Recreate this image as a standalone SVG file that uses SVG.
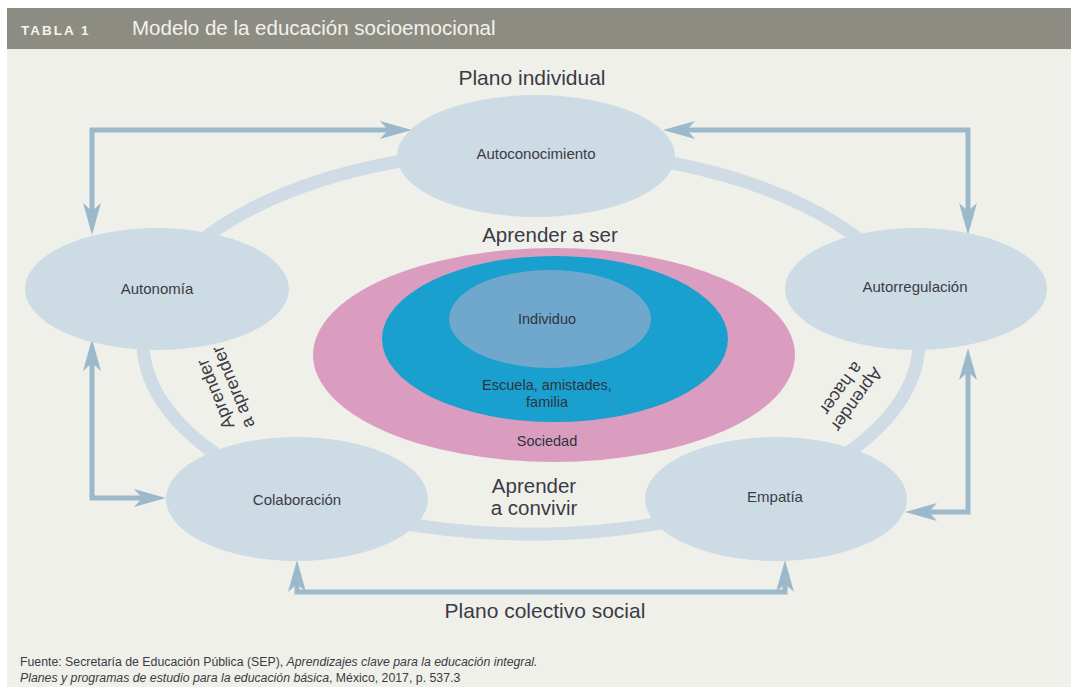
<svg xmlns="http://www.w3.org/2000/svg" width="1071" height="687" viewBox="0 0 1071 687">
<style>
.t{font-family:"Liberation Sans",Arial,sans-serif;fill:#3b3b44;text-anchor:middle}
.big{font-size:20.5px}
.node{fill:#cddbe4}
.lbl{font-size:15px}
.ctr{font-size:14.5px;fill:#2f3440}
.arr{fill:none;stroke:#9cb9cb;stroke-width:5;marker-start:url(#ah);marker-end:url(#ah)}
.foot{font-family:"Liberation Sans",Arial,sans-serif;font-size:12.3px;fill:#3b3b44}
</style>
<defs>
<marker id="ah" viewBox="-13 -10 34 20" refX="0" refY="0" markerWidth="34" markerHeight="20" markerUnits="userSpaceOnUse" orient="auto-start-reverse">
<path d="M20,0 L-12,-9 L-4,0 L-12,9 Z" fill="#9cb9cb"/>
</marker>
</defs>
<rect x="0" y="0" width="1071" height="687" fill="#ffffff"/>
<rect x="7" y="8" width="1064" height="41" fill="#8d8c83"/>
<rect x="7" y="49" width="1064" height="638" fill="#f0f0eb"/>
<text x="21" y="35" font-family="Liberation Sans,Arial,sans-serif" font-size="13.5" font-weight="bold" letter-spacing="2" fill="#f2f2ee">TABLA 1</text>
<text x="132" y="35" font-family="Liberation Sans,Arial,sans-serif" font-size="20.5" fill="#f2f2ee">Modelo de la educación socioemocional</text>

<g id="ring">
<ellipse cx="531" cy="342" rx="388" ry="192" fill="none" stroke="#cfdce5" stroke-width="13"/>
</g>

<g id="connectors">
<path class="arr" d="M392,130 L92,130 L92,215"/>
<path class="arr" d="M683,130 L968,130 L968,215"/>
<path class="arr" d="M92,359 L92,498 L146,498"/>
<path class="arr" d="M297,580 L297,592 L785,592 L785,580"/>
<path class="arr" d="M968,368 L968,512 L925,512"/>
</g>

<g id="centro">
<ellipse cx="554" cy="355" rx="241" ry="107" fill="#db9dbf"/>
<ellipse cx="555" cy="339" rx="173" ry="83" fill="#19a0cf"/>
<ellipse cx="550" cy="319" rx="101" ry="49" fill="#6fa8cc"/>
<text class="t ctr" x="547" y="324" font-size="15">Individuo</text>
<text class="t ctr" x="547" y="390">Escuela, amistades,</text>
<text class="t ctr" x="547" y="407">familia</text>
<text class="t ctr" x="547" y="446">Sociedad</text>
</g>

<g id="autoconocimiento">
<ellipse class="node" cx="536" cy="156" rx="139" ry="61"/>
<text class="t lbl" x="536" y="159" font-size="16">Autoconocimiento</text>
</g>
<g id="autonomia">
<ellipse class="node" cx="157" cy="289" rx="132" ry="61"/>
<text class="t lbl" x="157" y="294">Autonomía</text>
</g>
<g id="autorregulacion">
<ellipse class="node" cx="916" cy="289" rx="131" ry="61"/>
<text class="t lbl" x="915" y="292">Autorregulación</text>
</g>
<g id="colaboracion">
<ellipse class="node" cx="297" cy="499" rx="131" ry="62"/>
<text class="t lbl" x="297" y="505">Colaboración</text>
</g>
<g id="empatia">
<ellipse class="node" cx="776" cy="499" rx="131" ry="62"/>
<text class="t lbl" x="775" y="502">Empatía</text>
</g>

<g id="labels">
<text class="t" x="532" y="85" font-size="21">Plano individual</text>
<text class="t big" x="550" y="242">Aprender a ser</text>
<text class="t" x="534" y="493" font-size="20.5">Aprender</text>
<text class="t" x="534" y="515" font-size="20.5">a convivir</text>
<text class="t" x="545" y="618" font-size="21">Plano colectivo social</text>
<g transform="translate(221,392) rotate(-112)">
<text class="t" x="0" y="0" font-size="18">Aprender</text>
<text class="t" x="0" y="19" font-size="18">a aprender</text>
</g>
<g transform="translate(852,396) rotate(126)">
<text class="t" x="0" y="0" font-size="18">Aprender</text>
<text class="t" x="0" y="19" font-size="18">a hacer</text>
</g>
</g>

<g id="fuente">
<text class="foot" x="20" y="666">Fuente: Secretaría de Educación Pública (SEP), <tspan font-style="italic">Aprendizajes clave para la educación integral.</tspan></text>
<text class="foot" x="20" y="682"><tspan font-style="italic">Planes y programas de estudio para la educación básica</tspan>, México, 2017, p. 537.3</text>
</g>
</svg>
